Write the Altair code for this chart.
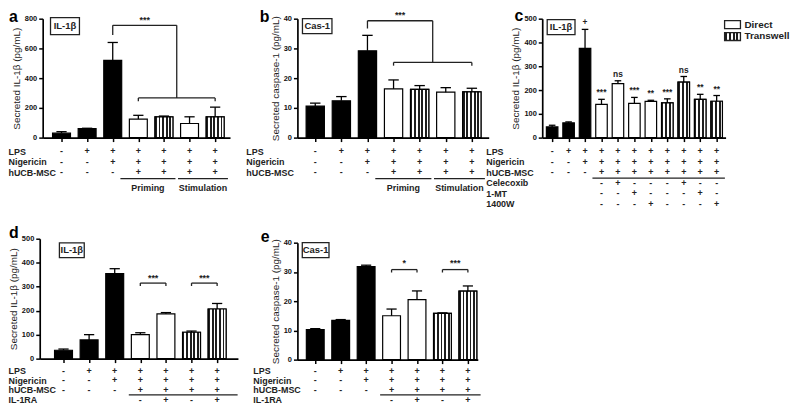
import altair as alt
import pandas as pd

FONT = "Liberation Sans"
W, H = 790, 398
M = 8  # page margin of the host page

# ---------------- data ----------------
a_means = [30, 60, 520, 125, 140, 95, 140]
a_errs = [10, 3, 120, 25, 5, 45, 65]
a_kind = ["black", "black", "black", "white", "check", "white", "check"]

b_means = [10.6, 12.4, 29.2, 16.4, 16.2, 15.3, 15.4]
b_errs = [1.0, 1.4, 5.2, 3.0, 1.3, 1.5, 1.2]
b_kind = a_kind

c_means = [45, 62, 375, 140, 227, 144, 152, 146, 233, 161, 153]
c_errs = [7, 4, 80, 21, 12, 25, 5, 17, 24, 21, 24]
c_kind = ["black"] * 3 + ["white"] * 4 + ["check"] * 4
c_marks = ["", "", "+", "***", "ns", "***", "**", "***", "ns", "**", "**"]

d_means = [35, 78, 355, 100, 187, 110, 207]
d_errs = [5, 22, 20, 8, 5, 5, 23]
d_kind = ["black"] * 3 + ["white", "white", "check", "check"]

e_means = [10.3, 13.4, 31.8, 15.0, 20.5, 15.8, 23.4]
e_errs = [0.3, 0.3, 0.5, 2.3, 3.0, 0.2, 1.8]
e_kind = d_kind

ab_rows = ["LPS", "Nigericin", "hUCB-MSC"]
ab_table = [
    ["-", "+", "+", "+", "+", "+", "+"],
    ["-", "-", "+", "+", "+", "+", "+"],
    ["-", "-", "-", "+", "+", "+", "+"],
]
ab_groups = [("Priming", 3.3, 5.45), ("Stimulation", 5.55, 7.5)]

c_rows = ["LPS", "Nigericin", "hUCB-MSC", "Celecoxib", "1-MT", "1400W"]
c_table = [
    ["-"] + ["+"] * 10,
    ["-", "-"] + ["+"] * 9,
    ["-", "-", "-"] + ["+"] * 8,
    ["", "", "", "-", "+", "-", "-", "-", "+", "-", "-"],
    ["", "", "", "-", "-", "+", "-", "-", "-", "+", "-"],
    ["", "", "", "-", "-", "-", "+", "-", "-", "-", "+"],
]
c_groups = [("", 3.45, 11.5)]

de_rows = ["LPS", "Nigericin", "hUCB-MSC", "IL-1RA"]
de_table = [
    ["-", "+", "+", "+", "+", "+", "+"],
    ["-", "-", "+", "+", "+", "+", "+"],
    ["-", "-", "-", "+", "+", "+", "+"],
    ["", "", "", "-", "+", "-", "+"],
]
d_groups = [("", 3.55, 7.8)]
e_groups = [("", 3.55, 7.5)]

# significance brackets: (x, x2, y, y2)
a_br = [(3, 3, 690, 755), (3, 5.5, 755, 755), (5.5, 5.5, 267, 755),
        (4, 7, 267, 267), (4, 4, 245, 267), (7, 7, 245, 267)]
a_st = [(4.25, 790, "***")]
b_br = [(3, 3, 36.7, 39.3), (3, 5.5, 39.3, 39.3), (5.5, 5.5, 25.3, 39.3),
        (4, 7, 25.3, 25.3), (4, 4, 24.2, 25.3), (7, 7, 24.2, 25.3)]
b_st = [(4.25, 41.3, "***")]
d_br = [(4, 5, 315, 315), (4, 4, 303, 315), (5, 5, 303, 315),
        (6, 7, 315, 315), (6, 6, 303, 315), (7, 7, 303, 315)]
d_st = [(4.5, 335, "***"), (6.5, 335, "***")]
e_br = [(4, 5, 30.8, 30.8), (4, 4, 29.8, 30.8), (5, 5, 29.8, 30.8),
        (6, 7, 30.8, 30.8), (6, 6, 29.8, 30.8), (7, 7, 29.8, 30.8)]
e_st = [(4.5, 32.9, "*"), (6.5, 32.9, "***")]

# boxed labels: text, x, x2, y, y2 (data units)
a_box = ("IL-1β", 0.57, 1.7, 693, 807)
b_box = ("Cas-1", 0.51, 1.64, 35.0, 40.0)
c_box = ("IL-1β", 0.7, 2.39, 433, 496)
d_box = ("IL-1β", 0.84, 1.81, 421, 483)
e_box = ("Cas-1", 0.49, 1.54, 34.9, 40.0)

IL = "Secreted IL-1β (pg/mL)"
CAS = "Secreted caspase-1 (pg/mL)"

# ---------------- layout (page pixels) ----------------
GEO = {
    "a": dict(x0=43, x1=232, c1=62, cN=217, n=7, y0=137, y1=17, ydom=[0, 800],
              yvals=[0, 200, 400, 600, 800], r0=151, r1=172, labx=8, letter=(9, 20)),
    "b": dict(x0=300, x1=493, c1=318, cN=476, n=7, y0=137, y1=17, ydom=[0, 40],
              yvals=[0, 10, 20, 30, 40], r0=151, r1=172, labx=248, letter=(262, 20)),
    "c": dict(x0=547, x1=732, c1=557, cN=723, n=11, y0=137, y1=17, ydom=[0, 500],
              yvals=[0, 100, 200, 300, 400, 500], r0=151, r1=203.5, labx=490, letter=(519, 19)),
    "d": dict(x0=40, x1=240, c1=64, cN=219, n=7, y0=360, y1=239, ydom=[0, 500],
              yvals=[0, 100, 200, 300, 400, 500], r0=372, r1=401.5, labx=8, letter=(9, 238)),
    "e": dict(x0=300, x1=482, c1=318, cN=472, n=7, y0=361, y1=243, ydom=[0, 40],
              yvals=[0, 10, 20, 30, 40], r0=372, r1=401.5, labx=255, letter=(263, 242)),
}


def stripes(n=5, dark="#1e1e1e", light="#ffffff"):
    stops = []
    for k in range(n):
        a, b, c = k / n, (k + 0.5) / n, (k + 1) / n
        stops += [alt.GradientStop(offset=a, color=dark), alt.GradientStop(offset=b, color=dark),
                  alt.GradientStop(offset=b, color=light), alt.GradientStop(offset=c, color=light)]
    return alt.LinearGradient(gradient="linear", stops=stops, x1=0, x2=1, y1=0, y2=0)


def xs(g):
    step = (g["cN"] - g["c1"]) / (g["n"] - 1)
    dmin = 1 + (g["x0"] - g["c1"]) / step
    dmax = 1 + (g["x1"] - g["c1"]) / step
    return alt.Scale(domain=[dmin, dmax], range=[g["x0"] - M, g["x1"] - M], nice=False, zero=False)


def ys(g):
    return alt.Scale(domain=g["ydom"], range=[g["y0"] - M, g["y1"] - M], nice=False, zero=False)


def ts(g, nrows):
    return alt.Scale(domain=[0, nrows - 1], range=[g["r0"] - M, g["r1"] - M], nice=False, zero=False)


def panel(key, means, errs, kinds, rows, table, groups, ytitle, box,
          brackets=None, stars=None, marks=None, ncheck=5):
    g = GEO[key]
    X, Y = xs(g), ys(g)
    n = len(means)
    df = pd.DataFrame({
        "idx": list(range(1, n + 1)), "mean": means, "err": errs, "kind": kinds,
    })
    df["top"] = df["mean"] + df["err"]
    df["zero"] = 0
    df["bx0"] = df["idx"] - 0.35
    df["bx1"] = df["idx"] + 0.35
    df["cx0"] = df["idx"] - 0.2
    df["cx1"] = df["idx"] + 0.2
    df["color"] = df["kind"].map({"black": "black", "white": "white", "check": "white"})
    layers = []

    xaxis = alt.Axis(orient="bottom", offset=-(H - (g["y0"] - M)), values=list(range(1, n + 1)),
                     labels=False, ticks=True, tickSize=4, tickWidth=1.5, domainWidth=1.7,
                     domainColor="black", tickColor="black", title=None, grid=False)
    yaxis = alt.Axis(orient="left", offset=-(g["x0"] - M), values=g["yvals"], title=ytitle,
                     tickSize=4, tickWidth=1.5, domainWidth=1.7, domainColor="black",
                     tickColor="black", labelFont=FONT, labelFontSize=7.5, labelFontWeight="bold",
                     labelColor="#111", labelPadding=2, titleFont=FONT, titleFontSize=10,
                     titleFontWeight="normal", titleColor="#222", titlePadding=3, grid=False)
    # solid bars (carry the axes)
    layers.append(alt.Chart(df).mark_bar(stroke="black", strokeWidth=1.2).encode(
        x=alt.X("bx0:Q", scale=X, axis=xaxis), x2="bx1:Q",
        y=alt.Y("mean:Q", scale=Y, axis=yaxis), y2="zero:Q",
        fill=alt.Color("color:N", scale=None),
    ))
    # checkered bars
    dfc = df[df["kind"] == "check"]
    if len(dfc):
        layers.append(alt.Chart(dfc).mark_bar(fill=stripes(ncheck), stroke="black", strokeWidth=1.2).encode(
            x=alt.X("bx0:Q", scale=X, axis=None), x2="bx1:Q",
            y=alt.Y("mean:Q", scale=Y, axis=None), y2="zero:Q",
        ))
    # error bars (upper only) + caps
    layers.append(alt.Chart(df).mark_rule(color="black", strokeWidth=1.3).encode(
        x=alt.X("idx:Q", scale=X, axis=None),
        y=alt.Y("mean:Q", scale=Y, axis=None), y2="top:Q",
    ))
    layers.append(alt.Chart(df).mark_rule(color="black", strokeWidth=1.3).encode(
        x=alt.X("cx0:Q", scale=X, axis=None), x2="cx1:Q",
        y=alt.Y("top:Q", scale=Y, axis=None),
    ))
    if marks:
        df["mk"] = marks
        layers.append(alt.Chart(df).mark_text(font=FONT, fontSize=8.5, fontWeight="bold",
                                              baseline="bottom", dy=-2, color="#222").encode(
            x=alt.X("idx:Q", scale=X, axis=None),
            y=alt.Y("top:Q", scale=Y, axis=None), text="mk:N",
        ))
    if brackets:
        bdf = pd.DataFrame(brackets, columns=["x", "x2", "y", "y2"])
        layers.append(alt.Chart(bdf).mark_rule(color="#222", strokeWidth=1.3).encode(
            x=alt.X("x:Q", scale=X, axis=None), x2="x2:Q",
            y=alt.Y("y:Q", scale=Y, axis=None), y2="y2:Q",
        ))
    if stars:
        sdf = pd.DataFrame(stars, columns=["x", "y", "t"])
        layers.append(alt.Chart(sdf).mark_text(font=FONT, fontSize=9, fontWeight="bold",
                                               baseline="middle", color="#222").encode(
            x=alt.X("x:Q", scale=X, axis=None),
            y=alt.Y("y:Q", scale=Y, axis=None), text="t:N",
        ))
    # boxed label
    bt, bx0, bx1, by0, by1 = box
    bxdf = pd.DataFrame([{"t": bt, "x": bx0, "x2": bx1, "y": by0, "y2": by1,
                          "xm": (bx0 + bx1) / 2, "ym": (by0 + by1) / 2}])
    layers.append(alt.Chart(bxdf).mark_rect(fill="white", stroke="#222", strokeWidth=1.3).encode(
        x=alt.X("x:Q", scale=X, axis=None), x2="x2:Q",
        y=alt.Y("y:Q", scale=Y, axis=None), y2="y2:Q",
    ))
    layers.append(alt.Chart(bxdf).mark_text(font=FONT, fontSize=9.5, fontWeight="bold",
                                            baseline="middle", color="#222").encode(
        x=alt.X("xm:Q", scale=X, axis=None),
        y=alt.Y("ym:Q", scale=Y, axis=None), text="t:N",
    ))
    # treatment table
    nr = len(rows)
    T = ts(g, nr)
    recs = []
    for r, row in enumerate(table):
        for i, s in enumerate(row):
            recs.append({"row": r, "idx": i + 1, "s": s})
    tdf = pd.DataFrame(recs)
    names = "[" + ",".join("'" + r + "'" for r in rows) + "]"
    taxis = alt.Axis(orient="left", offset=-(g["labx"] - M), values=list(range(nr)),
                     labelExpr=names + "[datum.value]", labelAlign="left", labelPadding=0,
                     ticks=False, domain=False, labelOverlap=False, labelFlush=False,
                     labelFont=FONT, labelFontSize=9, labelFontWeight="bold",
                     labelColor="#222", title=None, grid=False)
    layers.append(alt.Chart(tdf).mark_text(font=FONT, fontSize=9, fontWeight="bold",
                                           baseline="middle", color="#222").encode(
        x=alt.X("idx:Q", scale=X, axis=None),
        y=alt.Y("row:Q", scale=T, axis=taxis), text="s:N",
    ))
    gdf = pd.DataFrame([{"t": t, "x": a, "x2": b, "xm": (a + b) / 2,
                         "y": 2.6 if nr < 4 else (2.55 if nr == 6 else 2.5),
                         "yt": 3.55} for (t, a, b) in groups])
    layers.append(alt.Chart(gdf).mark_rule(color="#222", strokeWidth=1.2).encode(
        x=alt.X("x:Q", scale=X, axis=None), x2="x2:Q",
        y=alt.Y("y:Q", scale=T, axis=None),
    ))
    if any(t for (t, a, b) in groups):
        layers.append(alt.Chart(gdf).mark_text(font=FONT, fontSize=9, fontWeight="bold",
                                               baseline="middle", color="#222").encode(
            x=alt.X("xm:Q", scale=X, axis=None),
            y=alt.Y("yt:Q", scale=T, axis=None), text="t:N",
        ))
    # panel letter
    lx, ly = g["letter"]
    layers.append(alt.Chart(pd.DataFrame([{"t": key}])).mark_text(
        font=FONT, fontSize=16, fontWeight="bold", align="left", baseline="alphabetic",
        color="black").encode(
        x=alt.value(lx - M), y=alt.value(ly - M), text="t:N"))
    return layers


layers = []
layers += panel("a", a_means, a_errs, a_kind, ab_rows, ab_table, ab_groups, IL, a_box,
                brackets=a_br, stars=a_st)
layers += panel("b", b_means, b_errs, b_kind, ab_rows, ab_table, ab_groups, CAS, b_box,
                brackets=b_br, stars=b_st)
layers += panel("c", c_means, c_errs, c_kind, c_rows, c_table, c_groups, IL, c_box,
                marks=c_marks, ncheck=3)
layers += panel("d", d_means, d_errs, d_kind, de_rows, de_table, d_groups, IL, d_box,
                brackets=d_br, stars=d_st)
layers += panel("e", e_means, e_errs, e_kind, de_rows, de_table, e_groups, CAS, e_box,
                brackets=e_br, stars=e_st)

# legend (panel c)
leg = pd.DataFrame([{"t": "Direct", "k": "Direct"}, {"t": "Transwell", "k": "Transwell"}])
LX0, LX1 = 731 - M, 747 - M
layers.append(alt.Chart(leg[leg.k == "Direct"]).mark_rect(fill="white", stroke="#222", strokeWidth=1.3).encode(
    x=alt.value(LX0), x2=alt.value(LX1), y=alt.value(19 - M), y2=alt.value(27 - M)))
layers.append(alt.Chart(leg[leg.k == "Transwell"]).mark_rect(fill=stripes(4), stroke="#222", strokeWidth=1.3).encode(
    x=alt.value(LX0), x2=alt.value(LX1), y=alt.value(31 - M), y2=alt.value(39 - M)))
layers.append(alt.Chart(leg[leg.k == "Direct"]).mark_text(font=FONT, fontSize=10, fontWeight="bold",
                                                          align="left", baseline="middle", color="#222").encode(
    x=alt.value(751 - M), y=alt.value(23 - M), text="t:N"))
layers.append(alt.Chart(leg[leg.k == "Transwell"]).mark_text(font=FONT, fontSize=10, fontWeight="bold",
                                                             align="left", baseline="middle", color="#222").encode(
    x=alt.value(751 - M), y=alt.value(35 - M), text="t:N"))

chart = alt.layer(*layers).resolve_scale(x="independent", y="independent").properties(
    width=W, height=H, autosize=alt.AutoSizeParams(type="none"), padding=0,
).configure_view(stroke=None).configure_axis(grid=False)

chart.save("out.html", embed_options={"renderer": "svg", "actions": False})
